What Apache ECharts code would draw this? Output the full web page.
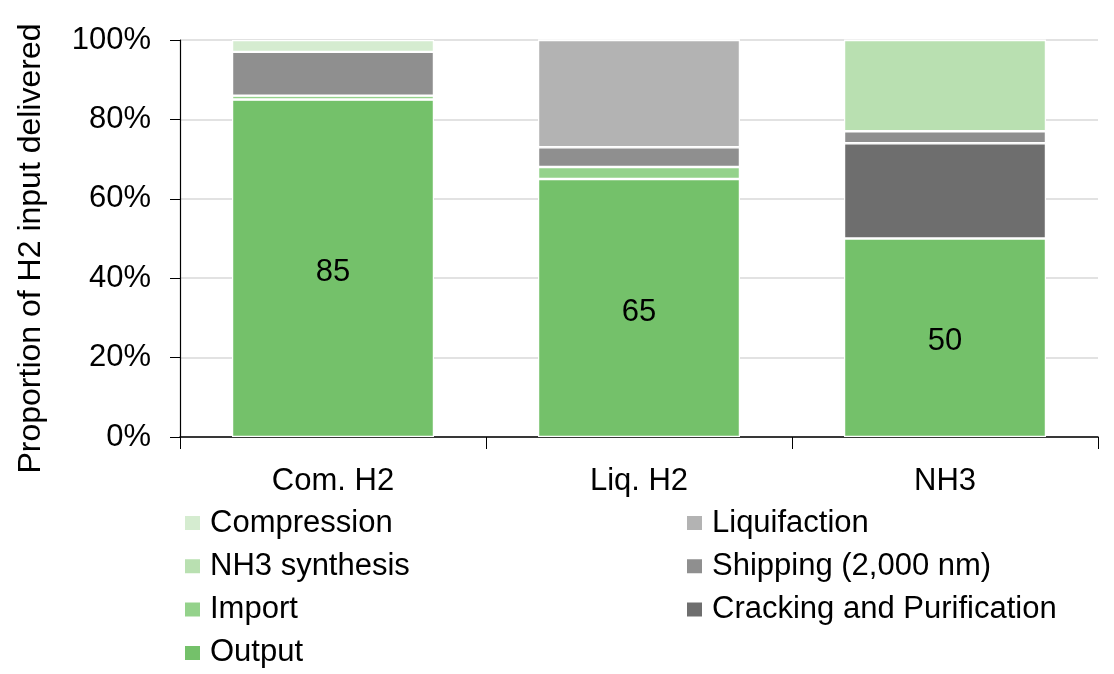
<!DOCTYPE html>
<html>
<head>
<meta charset="utf-8">
<script src="https://cdn.jsdelivr.net/npm/echarts@6/dist/echarts.min.js"></script>
<style>html,body{margin:0;padding:0;background:#fff}#c{width:1114px;height:674px}</style>
</head>
<body>
<div id="c"></div>
<script>
const categories = ['Com. H2', 'Liq. H2', 'NH3'];
const output = [85, 65, 50];
const importLoss = [1, 3, 0];
const cracking = [0, 0, 24];
const shipping = [11, 5, 3];
const liquifaction = [0, 27, 0];
const nh3Synthesis = [0, 0, 23];
const compression = [3, 0, 0];
const yTicks = [0, 20, 40, 60, 80, 100];

const FONT = "'Liberation Sans', Arial, sans-serif";
const FS = 31;
const colors = {
  'Compression': '#d5ecd0',
  'NH3 synthesis': '#b9e0b1',
  'Import': '#94d28b',
  'Output': '#74c16a',
  'Liquifaction': '#b3b3b3',
  'Shipping (2,000 nm)': '#8f8f8f',
  'Cracking and Purification': '#6e6e6e'
};
function mk(name, data, label) {
  const s = {
    name, type: 'bar', stack: 'total', data,
    barWidth: '66%',
    itemStyle: { color: colors[name], borderColor: '#ffffff', borderWidth: 1.2 },
    emphasis: { disabled: true }
  };
  if (label) {
    s.label = { show: true, position: 'inside', color: '#000', fontSize: FS, fontFamily: FONT, formatter: '{c}', offset: [0, 4] };
  }
  return s;
}
const chart = echarts.init(document.getElementById('c'), null, { renderer: 'canvas' });
const legendCommon = {
  orient: 'vertical', icon: 'rect', itemWidth: 17, itemHeight: 16, itemGap: 3.3, height: 200, padding: 0,
  textStyle: { fontSize: FS, fontFamily: FONT, color: '#000', lineHeight: 40, padding: [0, 0, 0, 4] },
  selectedMode: false
};
chart.setOption({
  animation: false,
  textStyle: { fontFamily: FONT },
  grid: { left: 180, right: 16, top: 40, bottom: 237, containLabel: false, outerBoundsMode: 'none' },
  legend: [
    Object.assign({}, legendCommon, { left: 183, top: 503, data: ['Compression', 'NH3 synthesis', 'Import', 'Output'] }),
    Object.assign({}, legendCommon, { left: 685, top: 503, data: ['Liquifaction', 'Shipping (2,000 nm)', 'Cracking and Purification'] })
  ],
  xAxis: {
    type: 'category', data: categories,
    axisLine: { lineStyle: { color: '#000', width: 1.5 } },
    axisTick: { show: true, length: 12, lineStyle: { color: '#000' } },
    axisLabel: { fontSize: FS, color: '#000', fontFamily: FONT, margin: 29 }
  },
  yAxis: {
    type: 'value', min: 0, max: 100, interval: 20,
    name: 'Proportion of H2 input delivered', nameLocation: 'middle', nameGap: 133, nameRotate: 90,
    nameTextStyle: { fontSize: 32, color: '#000', fontFamily: FONT, padding: [0, 20, 0, 0] },
    axisLine: { show: true, lineStyle: { color: '#000', width: 1.2 } },
    axisTick: { show: true, inside: false, length: 10, lineStyle: { color: '#000' } },
    axisLabel: { fontSize: FS, color: '#000', fontFamily: FONT, margin: 29,
      formatter: v => (yTicks.includes(v) ? v + '%' : '') },
    splitLine: { show: true, lineStyle: { color: '#d9d9d9', width: 1.5 } }
  },
  series: [
    mk('Output', output, true),
    mk('Import', importLoss),
    mk('Cracking and Purification', cracking),
    mk('Shipping (2,000 nm)', shipping),
    mk('Liquifaction', liquifaction),
    mk('NH3 synthesis', nh3Synthesis),
    mk('Compression', compression)
  ]
});
</script>
</body>
</html>
